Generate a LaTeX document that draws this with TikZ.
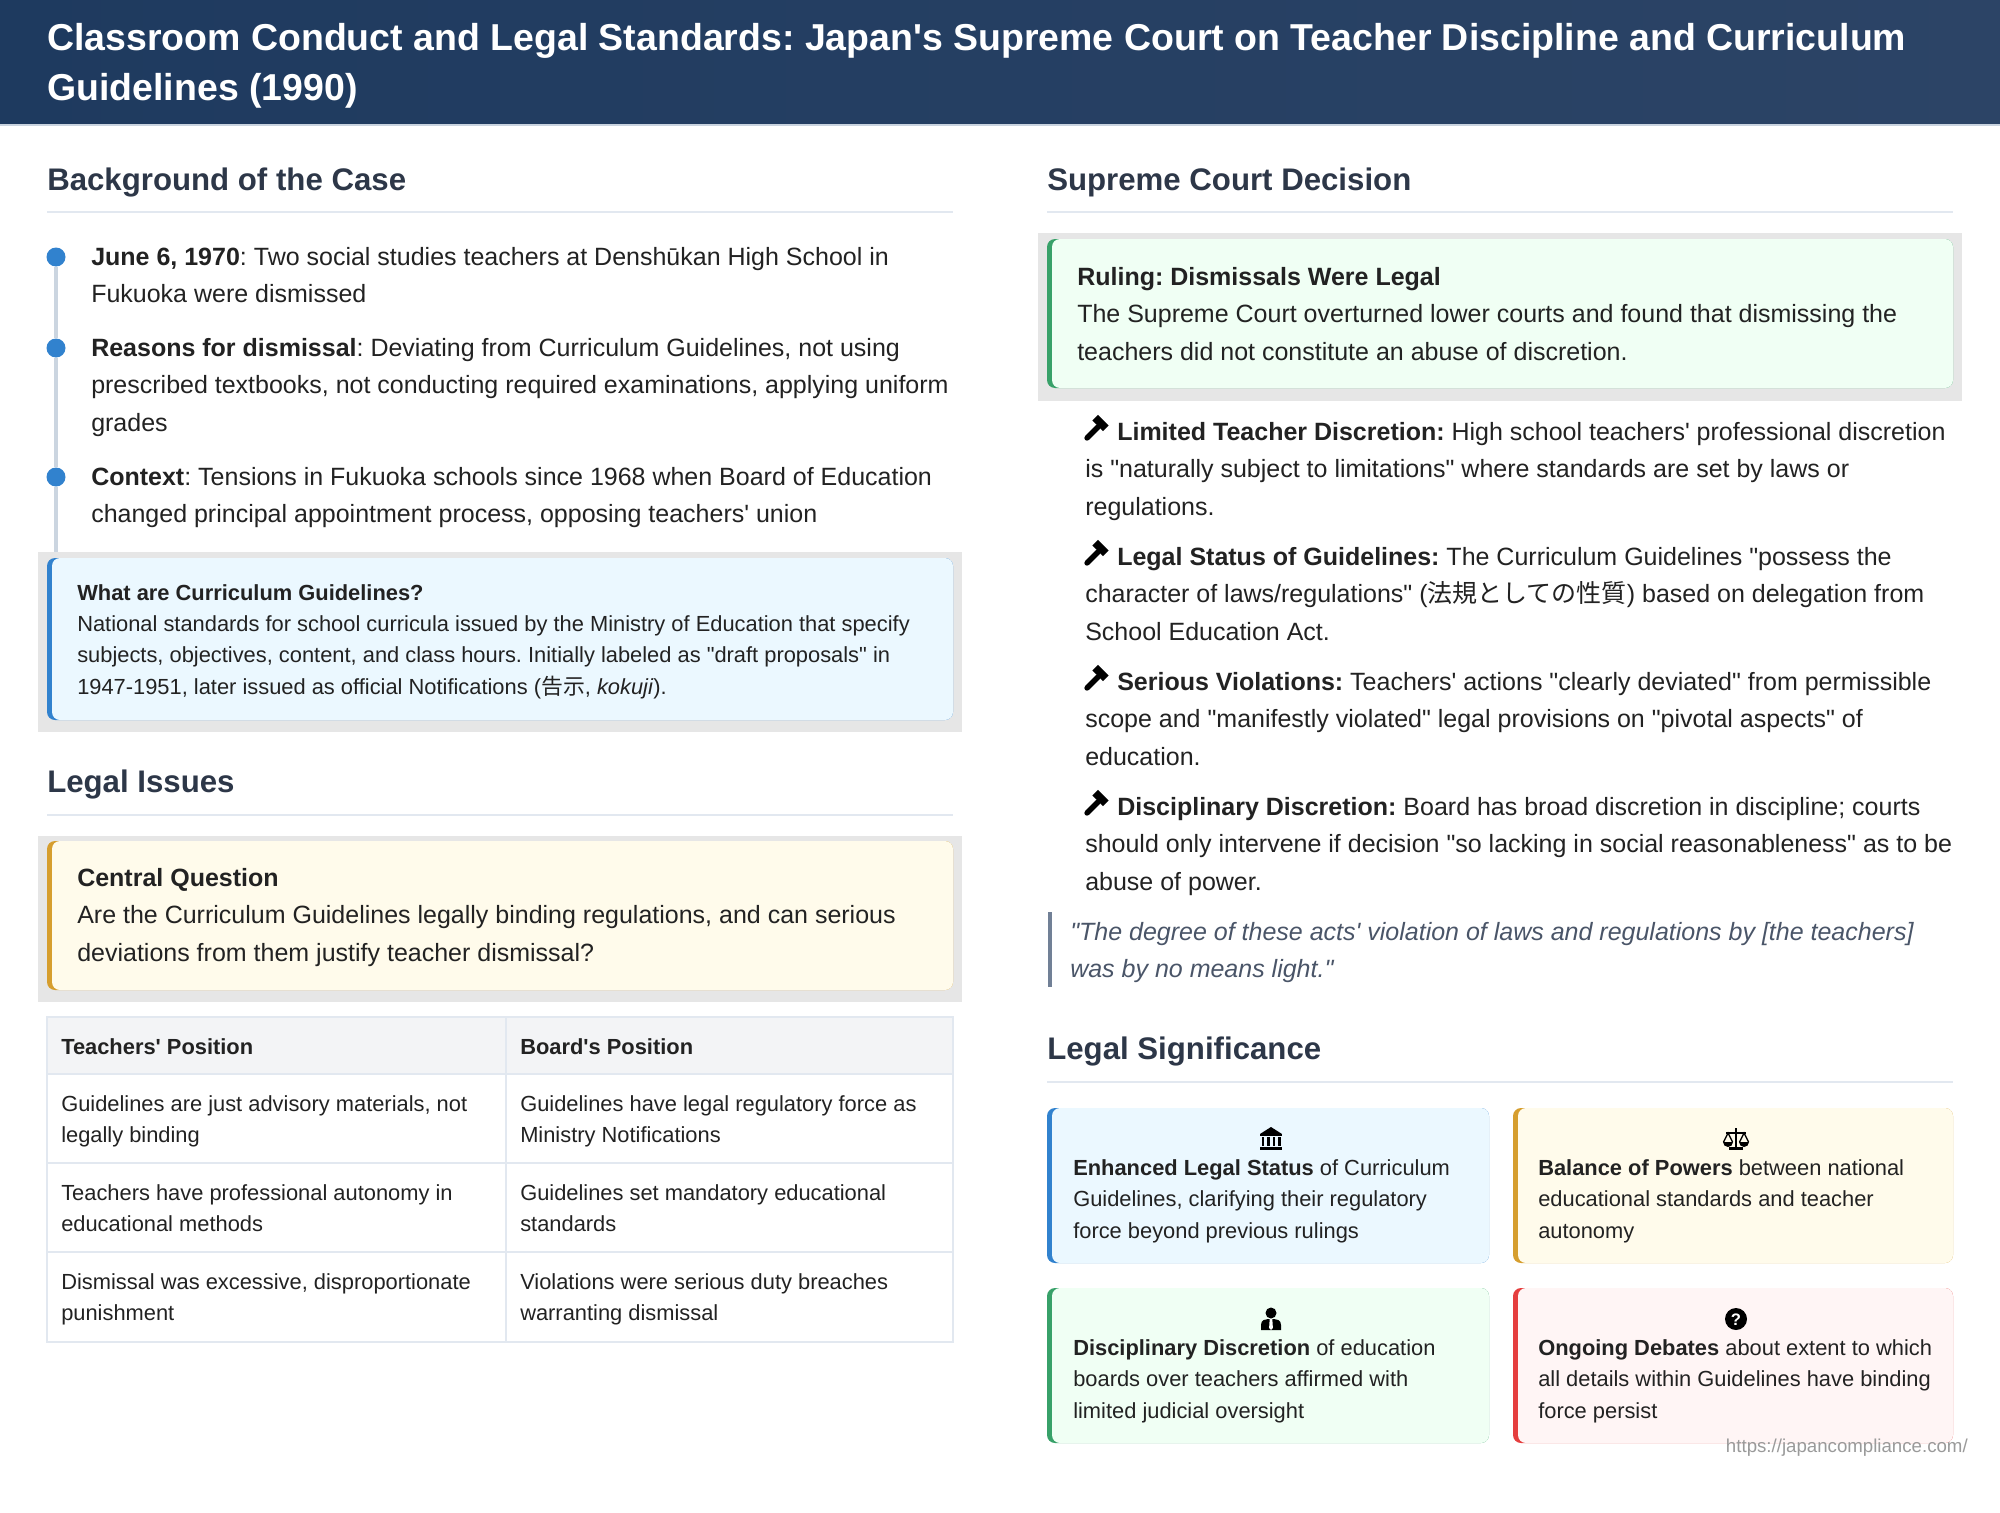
\documentclass[tikz,border=0pt]{standalone}
\usepackage{fontspec}
\newfontfamily\lsans{Liberation Sans}
\newfontfamily\jp{Noto Sans CJK JP}
\definecolor{navyL}{HTML}{1E3A5F}
\definecolor{navyR}{HTML}{2C4466}
\definecolor{hdrline}{HTML}{C9D3DF}
\definecolor{ink}{HTML}{222222}
\definecolor{headc}{HTML}{2D3748}
\definecolor{rulec}{HTML}{E2E8F0}
\definecolor{tlc}{HTML}{CBD5E0}
\definecolor{dotc}{HTML}{3182CE}
\definecolor{shadowc}{HTML}{E6E6E6}
\definecolor{blueacc}{HTML}{3182CE}
\definecolor{bluebg}{HTML}{EBF8FF}
\definecolor{goldacc}{HTML}{D69E2E}
\definecolor{goldbg}{HTML}{FFFBEB}
\definecolor{greenacc}{HTML}{38A169}
\definecolor{greenbg}{HTML}{F0FFF4}
\definecolor{redacc}{HTML}{E53E3E}
\definecolor{redbg}{HTML}{FFF5F5}
\definecolor{theadc}{HTML}{F3F4F6}
\definecolor{quotebar}{HTML}{718096}
\definecolor{quotetxt}{HTML}{4A5568}
\definecolor{footc}{HTML}{9A9A9A}
\newcommand\titlefs{\lsans\bfseries\fontsize{28.1}{37.5}\selectfont}
\newcommand\headfs{\lsans\bfseries\fontsize{23.4}{28}\selectfont}
\newcommand\bodyfs{\lsans\fontsize{18.75}{28.1}\selectfont}
\newcommand\smallfs{\lsans\fontsize{16.4}{23.6}\selectfont}
\tikzset{
  gavel/.pic={\fill (12.6,-2.5) -- (7.0,3.1) -- (-3.6,-7.5) -- (2.0,-13.1) -- cycle;
    \draw[line width=4pt, line cap=round] (2,-1) -- (-9,10);},
  building/.pic={\fill (-11,-5) -- (0,-12) -- (11,-5) -- cycle;
    \fill (-11,-5) rectangle (11,-3);
    \foreach \cx in {-9.5,-4,1.5,7} \fill (\cx,-2) rectangle (\cx+2.5,7);
    \fill (-11,7.5) rectangle (11,11);},
  scales/.pic={\fill (-1.2,-11) rectangle (1.2,9); \fill (-7,8) rectangle (7,11);
    \fill (-10,-7) rectangle (10,-5);
    \draw[line width=1pt] (-12.5,3) -- (-8,-6) -- (-3.5,3); \draw[line width=1pt] (3.5,3) -- (8,-6) -- (12.5,3);
    \fill (-3,3) arc[start angle=0, end angle=180, radius=5] -- cycle;
    \fill (13,3) arc[start angle=0, end angle=180, radius=5] -- cycle;},
  usertie/.pic={\fill (0,-6) circle[radius=5.5];
    \fill (-10,11) -- (-10,6) .. controls (-10,1) and (-6,0) .. (-3,0) -- (3,0) .. controls (6,0) and (10,1) .. (10,6) -- (10,11) -- cycle;
    \fill[white] (-1.3,0) -- (1.3,0) -- (1.9,9) -- (0,11) -- (-1.9,9) -- cycle;},
  qmark/.pic={\fill (0,0) circle[radius=11];
    \node[font=\lsans\bfseries\fontsize{12.5}{12.5}\selectfont, text=white, inner sep=0pt] (-q) at (0,0.5) {?};}
}
\begin{document}
\frenchspacing
\begin{tikzpicture}[x=0.75pt,y=-0.75pt,
  titletext/.style={font=\titlefs, text=white, inner sep=0pt, anchor=base west, align=left},
  heading/.style={font=\headfs, text=headc, inner sep=0pt, anchor=base west},
  body/.style={font=\bodyfs, text=ink, inner sep=0pt, anchor=base west, align=left},
  small/.style={font=\smallfs, text=ink, inner sep=0pt, anchor=base west, align=left},
  rule/.style={draw=rulec, line width=1.5pt},
  tl/.style={draw=tlc, line width=3pt},
  dot/.style={circle, fill=dotc, minimum size=14.25pt, inner sep=0pt},
  tline/.style={draw=rulec, line width=1.2pt}]
\useasboundingbox (0,0) rectangle (2000,1513);
\fill[white] (0,0) rectangle (2000,1513);
% header (nodes sit on the baseline of their last line)
\shade[left color=navyL, right color=navyR] (0,0) rectangle (2000,124);
\fill[hdrline] (0,124) rectangle (2000,126);
\node[titletext] (title) at (47,100) {Classroom Conduct and Legal Standards: Japan's Supreme Court on Teacher Discipline and Curriculum\\Guidelines (1990)};

% background of the case
\node[heading] (bghead) at (47,190) {Background of the Case}; \draw[rule] (47,212) -- (953,212);
\node[dot] (d1) at (56,257) {}; \node[dot] (d2) at (56,348) {}; \node[dot] (d3) at (56,477) {};
\coordinate (tlend) at (56,552);
\draw[tl] (d1) -- (d2); \draw[tl] (d2) -- (d3); \draw[tl] (d3) -- (tlend);
\node[body] (ev1) at (91,302.5) {\textbf{June 6, 1970}: Two social studies teachers at Denshūkan High School in\\Fukuoka were dismissed};
\node[body] (ev2) at (91,431) {\textbf{Reasons for dismissal}: Deviating from Curriculum Guidelines, not using\\prescribed textbooks, not conducting required examinations, applying uniform\\grades};
\node[body] (ev3) at (91,522.5) {\textbf{Context}: Tensions in Fukuoka schools since 1968 when Board of Education\\changed principal appointment process, opposing teachers' union};

\fill[shadowc] (38,552) rectangle (962,732);
\fill[blueacc, rounded corners=6pt] (47,558) rectangle (953,720); \fill[bluebg, rounded corners=6pt] (52,558) rectangle (953,720);
\node[small] (cgbox) at (77,694.4) {\textbf{What are Curriculum Guidelines?}\\National standards for school curricula issued by the Ministry of Education that specify\\subjects, objectives, content, and class hours. Initially labeled as "draft proposals" in\\1947-1951, later issued as official Notifications ({\jp 告示}, \textit{kokuji}).};

% legal issues
\node[heading] (lihead) at (47,792) {Legal Issues}; \draw[rule] (47,815) -- (953,815);
\fill[shadowc] (38,836) rectangle (962,1002);
\fill[goldacc, rounded corners=6pt] (47,841) rectangle (953,990); \fill[goldbg, rounded corners=6pt] (52,841) rectangle (953,990);
\node[body] (cq) at (77,961) {\textbf{Central Question}\\Are the Curriculum Guidelines legally binding regulations, and can serious\\deviations from them justify teacher dismissal?};

\fill[theadc] (47,1017) rectangle (953,1074);
\draw[tline] (47,1017) rectangle (953,1342); \draw[tline] (506,1017) -- (506,1342);
\foreach \ry in {1074,1163,1252} \draw[tline] (47,\ry) -- (953,\ry);
\node[small] (th1) at (61,1054) {\textbf{Teachers' Position}}; \node[small] (th2) at (520,1054) {\textbf{Board's Position}};
\node[small] (ta1) at (61,1142.5) {Guidelines are just advisory materials, not\\legally binding};
\node[small] (tb1) at (520,1142.5) {Guidelines have legal regulatory force as\\Ministry Notifications};
\node[small] (ta2) at (61,1231.5) {Teachers have professional autonomy in\\educational methods};
\node[small] (tb2) at (520,1231.5) {Guidelines set mandatory educational\\standards};
\node[small] (ta3) at (61,1320.5) {Dismissal was excessive, disproportionate\\punishment};
\node[small] (tb3) at (520,1320.5) {Violations were serious duty breaches\\warranting dismissal};

% supreme court decision
\node[heading] (scdhead) at (1047,190) {Supreme Court Decision}; \draw[rule] (1047,212) -- (1953,212);
\fill[shadowc] (1038,233) rectangle (1962,401);
\fill[greenacc, rounded corners=6pt] (1047,239) rectangle (1953,388); \fill[greenbg, rounded corners=6pt] (1052,239) rectangle (1953,388);
\node[body] (ruling) at (1077,360) {\textbf{Ruling: Dismissals Were Legal}\\The Supreme Court overturned lower courts and found that dismissing the\\teachers did not constitute an abuse of discretion.};

\node[body] (pt1) at (1085,515) {\hspace*{24pt}\textbf{Limited Teacher Discretion:} High school teachers' professional discretion\\is "naturally subject to limitations" where standards are set by laws or\\regulations.};
\node[body] (pt2) at (1085,640) {\hspace*{24pt}\textbf{Legal Status of Guidelines:} The Curriculum Guidelines "possess the\\character of laws/regulations" ({\jp 法規としての性質}) based on delegation from\\School Education Act.};
\node[body] (pt3) at (1085,765) {\hspace*{24pt}\textbf{Serious Violations:} Teachers' actions "clearly deviated" from permissible\\scope and "manifestly violated" legal provisions on "pivotal aspects" of\\education.};
\node[body] (pt4) at (1085,890) {\hspace*{24pt}\textbf{Disciplinary Discretion:} Board has broad discretion in discipline; courts\\should only intervene if decision "so lacking in social reasonableness" as to be\\abuse of power.};
\foreach \gy in {428,553,678,803} \pic at (1096,\gy) {gavel};

\fill[quotebar] (1048,912) rectangle (1052,987);
\node[body, text=quotetxt, font=\bodyfs\itshape] (quote) at (1070,977.5) {"The degree of these acts' violation of laws and regulations by [the teachers]\\was by no means light."};

% legal significance
\node[heading] (lshead) at (1047,1059) {Legal Significance}; \draw[rule] (1047,1082) -- (1953,1082);
\fill[blueacc, rounded corners=6pt] (1047,1108) rectangle (1489,1263); \fill[bluebg, rounded corners=6pt] (1052,1108) rectangle (1489,1263);
\fill[goldacc, rounded corners=6pt] (1513,1108) rectangle (1953,1263); \fill[goldbg, rounded corners=6pt] (1518,1108) rectangle (1953,1263);
\fill[greenacc, rounded corners=6pt] (1047,1288) rectangle (1489,1443); \fill[greenbg, rounded corners=6pt] (1052,1288) rectangle (1489,1443);
\fill[redacc, rounded corners=6pt] (1513,1288) rectangle (1953,1443); \fill[redbg, rounded corners=6pt] (1518,1288) rectangle (1953,1443);
\pic at (1271,1139) {building}; \pic at (1736,1139) {scales};
\pic at (1271,1319) {usertie}; \pic (qm) at (1736,1319) {qmark};
\node[small] (sig1) at (1073,1238) {\textbf{Enhanced Legal Status} of Curriculum\\Guidelines, clarifying their regulatory\\force beyond previous rulings};
\node[small] (sig2) at (1538,1238) {\textbf{Balance of Powers} between national\\educational standards and teacher\\autonomy};
\node[small] (sig3) at (1073,1418) {\textbf{Disciplinary Discretion} of education\\boards over teachers affirmed with\\limited judicial oversight};
\node[small] (sig4) at (1538,1418) {\textbf{Ongoing Debates} about extent to which\\all details within Guidelines have binding\\force persist};

\node[font=\lsans\fontsize{14}{14}\selectfont, text=footc, inner sep=0pt, anchor=base east] (src) at (1968,1452) {https://japancompliance.com/};
\end{tikzpicture}
\end{document}
